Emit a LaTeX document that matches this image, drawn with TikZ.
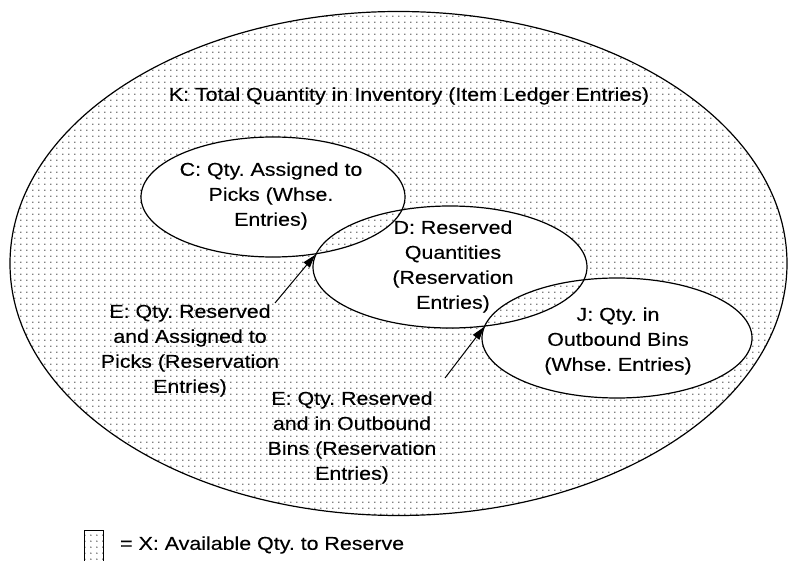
\documentclass[tikz,border=0pt]{standalone}
\usepackage{fontspec}
\setmainfont{Liberation Sans}[FakeStretch=1.15,FakeBold=0.2]
\usetikzlibrary{patterns,arrows.meta}
\pgfdeclarepatternformonly{vdots}{\pgfpointorigin}{\pgfpoint{6.33pt}{6.3pt}}{\pgfpoint{6.33pt}{6.3pt}}{%
  \pgfpathcircle{\pgfpoint{3.165pt}{3.15pt}}{0.72pt}%
  \pgfusepath{fill}}
\frenchspacing
\tikzset{
  lbl/.style={font=\fontsize{18.6pt}{25pt}\selectfont\frenchspacing, align=center, inner sep=0pt, text=black},
  outl/.style={draw=black, line width=1.2pt},
  dotfill/.style={pattern=vdots, pattern color=black},
  pointer/.style={draw=black, line width=1pt, -{Triangle[length=13pt,width=8pt]}}
}
\begin{document}
\begin{tikzpicture}[x=1pt,y=-1pt]
\useasboundingbox (0,0) rectangle (790,561);
% texts lying on the dotted area (dots drawn over them)
\node[lbl] (ktext) at (409,96) {K: Total Quantity in Inventory (Item Ledger Entries)};
\node[lbl] (e1text) at (190,350.5) {E: Qty. Reserved\\and Assigned to\\Picks (Reservation\\Entries)};
\node[lbl] (e2text) at (352,437.5) {E: Qty. Reserved\\and in Outbound\\Bins (Reservation\\Entries)};
% dotted regions (even-odd: K minus C,D,J plus the pairwise overlaps)
\fill[dotfill, even odd rule]
  (398.5,263.5) ellipse [x radius=388.5pt, y radius=252pt]
  (273,197) ellipse [x radius=132pt, y radius=60pt]
  (450,267) ellipse [x radius=137pt, y radius=61pt]
  (617,338) ellipse [x radius=135pt, y radius=60pt];
% outlines
\draw[outl] (398.5,263.5) ellipse [x radius=388.5pt, y radius=252pt];
\draw[outl] (273,197) ellipse [x radius=132pt, y radius=60pt];
\draw[outl] (450,267) ellipse [x radius=137pt, y radius=61pt];
\draw[outl] (617,338) ellipse [x radius=135pt, y radius=60pt];
% texts in the ellipses
\node[lbl] (ctext) at (271,196) {C: Qty. Assigned to\\Picks (Whse.\\Entries)};
\node[lbl] (dtext) at (453,266.5) {D: Reserved\\Quantities\\(Reservation\\Entries)};
\node[lbl] (jtext) at (618,341) {J: Qty. in\\Outbound Bins\\(Whse. Entries)};
% pointers
\coordinate (cd) at (315,255);
\coordinate (dj) at (484,327);
\coordinate (e1t) at (275,303);
\coordinate (e2t) at (445,378);
\draw[pointer] (e1t) -- (cd);
\draw[pointer] (e2t) -- (dj);
% legend
\node[draw=black, line width=1pt, dotfill, minimum width=19pt, minimum height=40pt, inner sep=0pt, anchor=north west] (swatch) at (84,530) {};
\node[lbl, anchor=west] (legend) at (120,545) {= X: Available Qty. to Reserve};
\end{tikzpicture}
\end{document}
